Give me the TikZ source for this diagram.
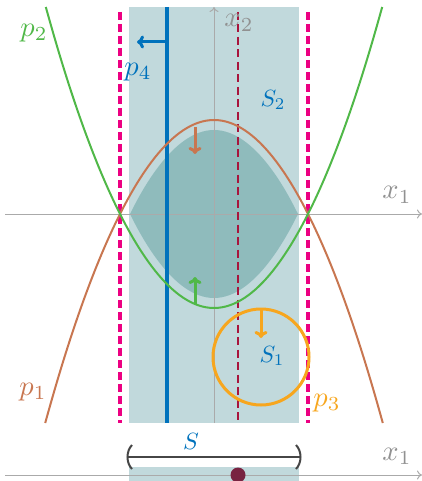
\documentclass[tikz,border=0pt]{standalone}
\usetikzlibrary{arrows.meta}
\definecolor{boxc}{RGB}{193,217,220}
\definecolor{regc}{RGB}{143,187,188}
\definecolor{bluec}{RGB}{0,114,188}
\definecolor{greenc}{RGB}{80,184,72}
\definecolor{brownc}{RGB}{200,118,80}
\definecolor{pinkc}{RGB}{236,0,130}
\definecolor{dredc}{RGB}{168,20,60}
\definecolor{orangec}{RGB}{247,166,30}
\definecolor{axisc}{RGB}{170,170,170}
\definecolor{dotc}{RGB}{120,35,65}
\definecolor{brackc}{RGB}{70,70,70}
\begin{document}
\begin{tikzpicture}[x=1pt,y=-1pt,
  lbl/.style={font=\normalsize, inner sep=0pt, scale=2.85},
  slbl/.style={font=\normalsize, inner sep=0pt, scale=2.35},
  axisline/.style={draw=axisc, line width=1pt, -{To[length=5pt,width=9pt]}},
  pinkdash/.style={draw=pinkc, line width=3.5pt, dash pattern=on 8pt off 4pt},
  reddash/.style={draw=dredc, line width=2.5pt, dash pattern=on 8pt off 4.5pt},
  thickarrow/.style={line width=3pt, -{To[length=7pt,width=13pt]}}]
\useasboundingbox (0,0) rectangle (422,481);
% shaded box
\fill[boxc] (129,7) rectangle (299,423);
% inner region S2
\fill[regc] (130,214) parabola bend (214,130) (298,214)
  parabola bend (214,298) (130,214) -- cycle;
% axes
\draw[axisline] (5,214) -- (422,214);
\draw[axisline] (214,423) -- (214,7);
% dashed lines
\draw[pinkdash] (120,12) -- (120,423);
\draw[pinkdash] (308,12) -- (308,423);
\draw[reddash] (238,12) -- (238,423);
% blue line p4
\draw[bluec, line width=3.2pt] (167,7) -- (167,423);
\coordinate (b1) at (167,42);
\coordinate (b2) at (137,42);
\draw[bluec, thickarrow] (b1) -- (b2);
% parabolas
\draw[brownc, line width=2pt] (45.2,423) parabola bend (214,120) (382.8,423);
\draw[greenc, line width=2pt] (45.8,7) parabola bend (214,308) (382.2,7);
% circle p3
\draw[orangec, line width=3pt] (261,357) circle[radius=48];
% arrows
\coordinate (r1) at (195,127);
\coordinate (r2) at (195,154);
\draw[brownc, thickarrow] (r1) -- (r2);
\coordinate (g1) at (195,304);
\coordinate (g2) at (195,277);
\draw[greenc, thickarrow] (g1) -- (g2);
\coordinate (o1) at (261,309);
\coordinate (o2) at (261,338);
\draw[orangec, thickarrow] (o1) -- (o2);
% labels
\node[lbl, text=greenc] (lp2) at (34,33) {$p_2$};
\node[lbl, text=bluec] (lp4) at (138,72) {$p_4$};
\node[lbl, text=axisc!85!black] (lx2) at (239,23) {$x_2$};
\node[slbl, text=bluec] (lS2) at (273,100) {$S_2$};
\node[lbl, text=axisc!85!black] (lx1) at (397,195) {$x_1$};
\node[slbl, text=bluec] (lS1) at (272,356) {$S_1$};
\node[lbl, text=orangec] (lp3) at (327,403) {$p_3$};
\node[lbl, text=brownc] (lp1) at (33,392) {$p_1$};
% bottom part
\fill[boxc] (129,467) rectangle (299,481);
\draw[axisline] (5,475) -- (422,475);
\node[lbl, text=axisc!85!black] (lx1b) at (397,456) {$x_1$};
\coordinate (sL) at (128,457);
\coordinate (sR) at (300,457);
\draw[brackc, line width=2pt] (sL) -- (sR);
\draw[brackc, line width=2pt] (132,445) .. controls (126,451) and (126,463) .. (132,469);
\draw[brackc, line width=2pt] (296,445) .. controls (302,451) and (302,463) .. (296,469);
\node[slbl, text=bluec] (lS) at (191,441) {$S$};
\fill[dotc] (238,475) circle[radius=7.5];
\end{tikzpicture}
\end{document}
